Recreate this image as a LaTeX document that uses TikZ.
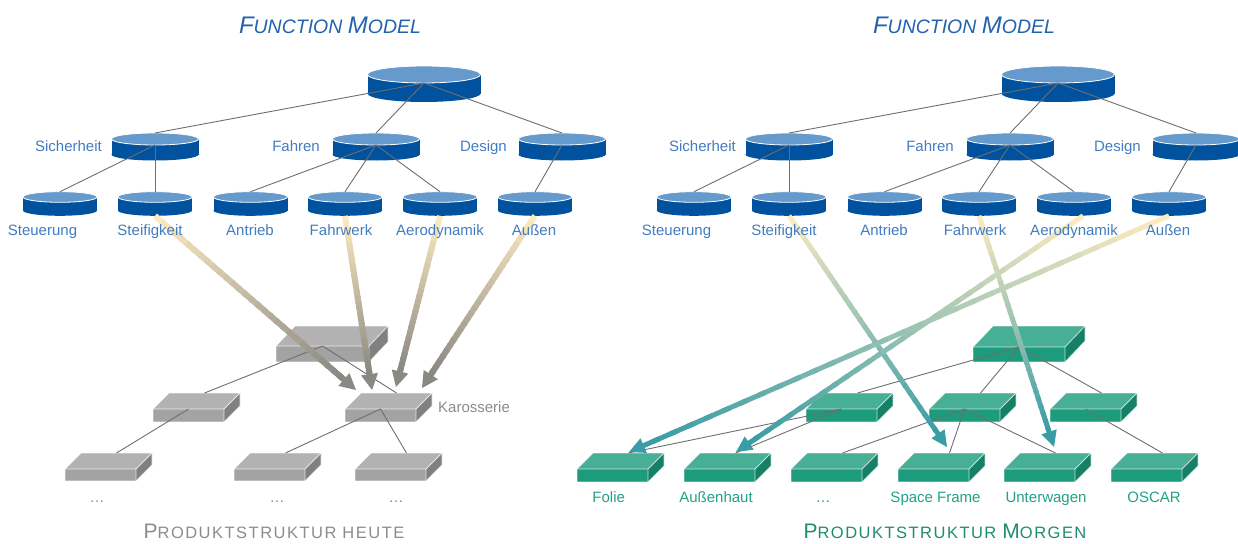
\documentclass[tikz,border=0pt]{standalone}
\usepackage{fontspec}
\setmainfont{Liberation Sans}
\newfontfamily\spacedsans[LetterSpace=9]{Liberation Sans}
\usetikzlibrary{calc}

\definecolor{cylTop}{HTML}{6699CC}
\definecolor{cylSide}{HTML}{00529F}
\definecolor{titleBlue}{HTML}{2262AE}
\definecolor{labBlue}{HTML}{427CC0}
\definecolor{treeLine}{HTML}{6E6E6E}
\definecolor{gTop}{HTML}{B2B2B2}
\definecolor{gFront}{HTML}{A3A3A3}
\definecolor{gSide}{HTML}{808080}
\definecolor{tTop}{HTML}{48AF97}
\definecolor{tFront}{HTML}{1C9C7C}
\definecolor{tSide}{HTML}{158066}
\definecolor{greyText}{HTML}{8C8C8C}
\definecolor{greenText}{HTML}{22A283}
\definecolor{greenTitle}{HTML}{1F8B6F}
\definecolor{pale}{HTML}{FCEAC0}
\definecolor{arrGrey}{HTML}{8A8883}
\definecolor{arrTeal}{HTML}{3A9DA6}

\tikzset{
  treeline/.style={draw=treeLine, line width=0.9pt},
  cylside/.style={fill=cylSide},
  cyltop/.style={fill=cylTop, draw=white, line width=0.8pt},
  greytop/.style={fill=gTop}, greyfront/.style={fill=gFront}, greyside/.style={fill=gSide},
  greyedge/.style={draw=white, draw opacity=0.75, line width=0.8pt},
  tealtop/.style={fill=tTop}, tealfront/.style={fill=tFront}, tealside/.style={fill=tSide},
  tealedge/.style={draw=white, draw opacity=0.7, line width=0.8pt},
  flab/.style={text=labBlue, font=\fontsize{15}{15}\selectfont, inner sep=0pt},
  glab/.style={text=greyText, font=\fontsize{15}{15}\selectfont, inner sep=0pt},
  tlab/.style={text=greenText, font=\fontsize{15}{15}\selectfont, inner sep=0pt},
  fmtitle/.style={text=titleBlue, inner sep=0pt, anchor=base},
  pstitle/.style={inner sep=0pt, anchor=base},
}

% cylinder: name, cx, cy(top centre), rx, ry, height
\newcommand\drawcyl[6]{%
  \fill[cylside] ({#2-#4},#3) rectangle ({#2+#4},{#3+#6});
  \fill[cylside] (#2,{#3+#6}) ellipse [x radius=#4, y radius=#5];
  \draw[cyltop] (#2,#3) ellipse [x radius=#4, y radius=#5];
  \coordinate (#1-f) at (#2,{#3+#5});
  \coordinate (#1-b) at (#2,{#3-#5});
  \coordinate (#1-d) at (#2,{#3+#6+#5});
}
% slab: name, x, y (front top-left), w, h, dx, dy, colour prefix
\newcommand\drawslab[8]{%
  \fill[#8top] (#2,#3) -- ({#2+#6},{#3-#7}) -- ({#2+#4+#6},{#3-#7}) -- ({#2+#4},#3) -- cycle;
  \fill[#8front] (#2,#3) rectangle ({#2+#4},{#3+#5});
  \fill[#8side] ({#2+#4},#3) -- ({#2+#4+#6},{#3-#7}) -- ({#2+#4+#6},{#3-#7+#5}) -- ({#2+#4},{#3+#5}) -- cycle;
  \draw[#8edge, line join=round] (#2,{#3+#5}) -- (#2,#3) -- ({#2+#6},{#3-#7}) -- ({#2+#4+#6},{#3-#7}) -- ({#2+#4+#6},{#3-#7+#5}) -- ({#2+#4},{#3+#5}) -- cycle;
  \draw[#8edge] (#2,#3) -- ({#2+#4},#3) -- ({#2+#4+#6},{#3-#7}) ({#2+#4},#3) -- ({#2+#4},{#3+#5});
  \coordinate (#1-f) at ({#2+#4/2},#3);
  \coordinate (#1-b) at ({#2+#4/2+#6},{#3-#7});
}
% gradient arrow: start, tip, end colour, width, head half-width
\newcommand\gradarrow[5]{%
  \coordinate (ga-base) at ($(#2)!16pt!(#1)$);
  \coordinate (ga-end) at ($(#2)!14pt!(#1)$);
  \foreach \k in {0,...,29}{%
    \pgfmathsetmacro\ta{\k/30}%
    \pgfmathsetmacro\tb{min(1,(\k+1.4)/30)}%
    \pgfmathtruncatemacro\pc{100-\k*100/29}%
    \draw[line width=#4, draw=pale!\pc!#3] ($(#1)!\ta!(ga-end)$) -- ($(#1)!\tb!(ga-end)$);
  }
  \fill[#3] (#2) -- ($(ga-base)!#5!90:(#2)$) -- ($(ga-base)!#5!-90:(#2)$) -- cycle;
}

\begin{document}
\begin{tikzpicture}[x=1pt,y=-1pt]
\useasboundingbox (0,0) rectangle (1238,543);

% ---------- function models ----------
\foreach \side/\o in {L/0,R/634}{
  \drawcyl{\side T}{424+\o}{74.5}{56.5}{8.5}{19}
  \drawcyl{\side S}{155+\o}{139}{43.5}{6}{15.5}
  \drawcyl{\side F}{376+\o}{139}{43.5}{6}{15.5}
  \drawcyl{\side D}{562+\o}{139}{43.5}{6}{15.5}
  \drawcyl{\side 1}{60+\o}{197}{37}{5.3}{13.5}
  \drawcyl{\side 2}{155+\o}{197}{37}{5.3}{13.5}
  \drawcyl{\side 3}{250.5+\o}{197}{37}{5.3}{13.5}
  \drawcyl{\side 4}{345+\o}{197}{37}{5.3}{13.5}
  \drawcyl{\side 5}{440+\o}{197}{37}{5.3}{13.5}
  \drawcyl{\side 6}{535+\o}{197}{37}{5.3}{13.5}
  \foreach \a/\b in {T/S,T/F,T/D,S/1,S/2,F/3,F/4,F/5,D/6}
    \draw[treeline] (\side\a-f) -- (\side\b-b);
}

% ---------- product structure today (grey) ----------
\drawslab{PT}{276}{346}{93}{16}{19}{20}{grey}
\drawslab{PM}{153}{409}{71}{13}{16}{16}{grey}
\drawslab{PK}{345}{409}{71}{13}{16}{16}{grey}
\drawslab{PB1}{65}{469}{71}{12}{16}{16}{grey}
\drawslab{PB2}{234}{469}{71}{12}{16}{16}{grey}
\drawslab{PB3}{355}{469}{71}{12}{16}{16}{grey}
\foreach \a/\b in {PT/PM,PT/PK,PM/PB1,PK/PB2,PK/PB3}
  \draw[treeline] (\a-f) -- (\b-b);

% ---------- product structure tomorrow (green) ----------
\drawslab{QT}{973}{347}{92}{15}{20}{21}{teal}
\drawslab{QM1}{806}{409}{71}{13}{16}{16}{teal}
\drawslab{QM2}{929}{409}{71}{13}{16}{16}{teal}
\drawslab{QM3}{1050}{409}{71}{13}{16}{16}{teal}
\drawslab{QB1}{577}{469}{71}{13}{16}{16}{teal}
\drawslab{QB2}{684}{469}{71}{13}{16}{16}{teal}
\drawslab{QB3}{791}{469}{71}{13}{16}{16}{teal}
\drawslab{QB4}{898}{469}{71}{13}{16}{16}{teal}
\drawslab{QB5}{1004}{469}{71}{13}{16}{16}{teal}
\drawslab{QB6}{1111}{469}{71}{13}{16}{16}{teal}
\foreach \a/\b in {QT/QM1,QT/QM2,QT/QM3,QM1/QB1,QM1/QB2,QM2/QB3,QM2/QB4,QM2/QB5,QM3/QB6}
  \draw[treeline] (\a-f) -- (\b-b);

% ---------- mapping arrows ----------
\coordinate (ka1) at (356,390);
\coordinate (ka2) at (372,390);
\coordinate (ka3) at (396,387);
\coordinate (ka4) at (422,388);
\gradarrow{L2-d}{ka1}{arrGrey}{6pt}{8.5pt}
\gradarrow{L4-d}{ka2}{arrGrey}{6pt}{8.5pt}
\gradarrow{L5-d}{ka3}{arrGrey}{6pt}{8.5pt}
\gradarrow{L6-d}{ka4}{arrGrey}{6pt}{8.5pt}

\coordinate (sR5) at ($(R5-d)+(9,0)$);
\coordinate (ta1) at (947,447);
\coordinate (ta2) at (1054,447);
\coordinate (ta3) at (736,452);
\coordinate (ta4) at (629,452);
\gradarrow{R2-d}{ta1}{arrTeal}{5pt}{8pt}
\gradarrow{R4-d}{ta2}{arrTeal}{5pt}{8pt}
\gradarrow{sR5}{ta3}{arrTeal}{5pt}{8pt}
\gradarrow{R6-d}{ta4}{arrTeal}{5pt}{8pt}

% ---------- labels ----------
\foreach \o/\n in {0/l,634/r}{
  \node[flab, anchor=base east] (s\n) at (102+\o,151) {Sicherheit};
  \node[flab, anchor=base east] (f\n) at (320+\o,151) {Fahren};
  \node[flab, anchor=base east] (d\n) at (507+\o,151) {Design};
  \node[flab, anchor=base] (a\n) at (42.5+\o,235) {Steuerung};
  \node[flab, anchor=base] (b\n) at (150+\o,235) {Steifigkeit};
  \node[flab, anchor=base] (c\n) at (250+\o,235) {Antrieb};
  \node[flab, anchor=base] (e\n) at (341+\o,235) {Fahrwerk};
  \node[flab, anchor=base] (g\n) at (440+\o,235) {Aerodynamik};
  \node[flab, anchor=base] (h\n) at (534+\o,235) {Außen};
  \node[fmtitle] (title\n) at (330+\o,33.3) {\itshape\fontsize{24}{24}\selectfont F\fontsize{19.5}{19.5}\selectfont UNCTION \fontsize{24}{24}\selectfont M\fontsize{19.5}{19.5}\selectfont ODEL};
}

\node[glab, anchor=base west] (karo) at (438,412) {Karosserie};
\node[glab, anchor=base] (dots1) at (97,502) {…};
\node[glab, anchor=base] (dots2) at (277,502) {…};
\node[glab, anchor=base] (dots3) at (396,502) {…};

\node[tlab, anchor=base] (folie) at (608.7,502.7) {Folie};
\node[tlab, anchor=base] (aussen) at (716,502.7) {Außenhaut};
\node[tlab, anchor=base] (dots4) at (823,502.7) {…};
\node[tlab, anchor=base] (space) at (935.5,502.7) {Space Frame};
\node[tlab, anchor=base] (unter) at (1046,502.7) {Unterwagen};
\node[tlab, anchor=base] (oscar) at (1154,502.7) {OSCAR};

\node[pstitle, text=greyText] (heute) at (274,538) {\spacedsans\fontsize{21}{21}\selectfont P\fontsize{16.5}{16.5}\selectfont RODUKTSTRUKTUR HEUTE};
\node[pstitle, text=greenTitle] (morgen) at (945,538.5) {\spacedsans\fontsize{21}{21}\selectfont P\fontsize{16.5}{16.5}\selectfont RODUKTSTRUKTUR \fontsize{21}{21}\selectfont M\fontsize{16.5}{16.5}\selectfont ORGEN};
\end{tikzpicture}
\end{document}
